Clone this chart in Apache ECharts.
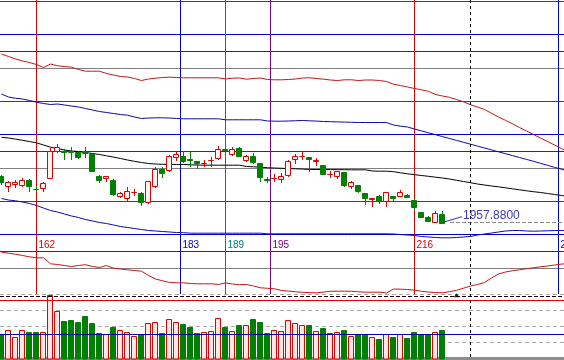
<!DOCTYPE html>
<html><head><meta charset="utf-8">
<script src="https://cdn.jsdelivr.net/npm/echarts@6/dist/echarts.min.js"></script>
<style>html,body{margin:0;padding:0;background:#fff}#c{width:564px;height:360px}</style>
</head><body><div id="c"></div>
<script>
// ---------- data ----------
const firstIndex = 157; // bar index of the first candle / first band point
const opens = [2052, 2032, 2035, 2034, 2044, 2025.6, 2027.4, 2047.4, 2100.6, 2101,
 2100.6, 2098.6, 2100.6, 2095.4, 2052, 2047.4, 2043.4, 2010.6, 2007.4, 2019,
 2016.6, 1998.6, 2032, 2065.4, 2063.4, 2088.6, 2091, 2084.4, 2080.6, 2077,
 2083, 2087.4, 2104.4, 2095.4, 2107.4, 2083.4, 2092, 2077.4, 2044.4, 2046.2,
 2045.4, 2053.4, 2085.4, 2090.4, 2090, 2081.8, 2073.4, 2055.2, 2052, 2059,
 2032, 2034, 2016.6, 2005.8, 2010.6, 2000.6, 2012, 2012, 2014, 2003.4,
 1980, 1970, 1960, 1975.4];
const closes = [2038.6, 2038.6, 2038.6, 2043.4, 2030.6, 2025.2, 2037.4, 2102, 2110, 2099,
 2098.6, 2088.6, 2096.6, 2060.6, 2044, 2050.6, 2015.4, 2016.6, 2022, 2020,
 1998.6, 2042, 2065.4, 2056.6, 2092, 2095.4, 2080.6, 2083.6, 2076.6, 2077.4,
 2083.4, 2105.4, 2103.6, 2105.4, 2090.6, 2092, 2080, 2050, 2043.6, 2046.8,
 2052, 2082, 2092, 2090.8, 2085.4, 2082.2, 2055.4, 2055.6, 2060.6, 2033,
 2039, 2020.4, 2007, 2006.2, 2001, 2018.6, 2007.4, 2018.6, 2008.6, 1988.6,
 1970, 1962, 1976.6, 1957.88];
const lows = [2036, 2022, 2030, 2032, 2022, 2022, 2022, 2047.4, 2098.6, 2085.4,
 2085.4, 2086.6, 2090, 2060.6, 2038.6, 2040.6, 2014, 2008.6, 2002, 2014,
 1994, 1996.6, 2028.6, 2048.6, 2062, 2083.4, 2078.6, 2072, 2067.4, 2072,
 2072, 2085.4, 2099, 2093.4, 2090.6, 2082, 2076.6, 2042, 2038.6, 2042,
 2038.6, 2052, 2076.6, 2085.4, 2060.6, 2074, 2055.4, 2048.6, 2047.4, 2032,
 2027, 2019, 1996, 1992, 1996.6, 1992, 2003.4, 2010.6, 2008.6, 1985.4,
 1970, 1960.6, 1958.6, 1957.88];
const highs = [2054, 2042, 2043, 2046.6, 2046, 2032, 2040, 2107.4, 2115.4, 2105.4,
 2108.6, 2100.6, 2108.6, 2096.6, 2053.4, 2052, 2044.6, 2018.6, 2028.6, 2025.4,
 2020, 2042, 2068.6, 2070, 2093.4, 2100, 2100.6, 2098.6, 2082, 2083.4,
 2088.6, 2112, 2108, 2110, 2108.6, 2094, 2096.6, 2077.4, 2048.6, 2055.4,
 2056.6, 2083.4, 2095.4, 2098.6, 2090, 2087.4, 2073.4, 2060.6, 2062, 2059,
 2041, 2034, 2016.6, 2008, 2013, 2020, 2012, 2023.4, 2015, 2005.4,
 1980, 1972, 1980.6, 1982];
const volumes = [245, 285, 212, 285, 265, 265, 262, 640, 475, 375,
 385, 365, 425, 355, 255, 245, 318, 285, 262, 225,
 242, 352, 362, 255, 392, 362, 345, 318, 255, 262,
 275, 402, 318, 275, 335, 335, 395, 365, 255, 285,
 280, 385, 352, 335, 335, 275, 305, 252, 262, 285,
 225, 242, 242, 212, 195, 242, 215, 242, 205, 265,
 242, 242, 262, 285];
// bands / moving average, bar index 157..238
const maLine = [2128.4, 2127, 2124.8, 2122.4, 2120, 2117.4, 2113, 2108.6, 2106, 2103,
 2101, 2100, 2098, 2096, 2094, 2091.4, 2088.8, 2086, 2083, 2080.4,
 2078, 2076, 2075, 2074.4, 2074, 2074, 2074, 2073.4, 2073, 2072.6,
 2072.6, 2072.6, 2072.6, 2072.6, 2072.6, 2070, 2069.4, 2068.6, 2067.6, 2067,
 2066.4, 2066, 2065.4, 2064.8, 2064.2, 2064, 2064, 2063.8, 2063.6, 2063.6,
 2063.4, 2063.4, 2063.4, 2061, 2060.6, 2060.6, 2059.6, 2057.4, 2055.4, 2053.6,
 2052, 2050.4, 2048.6, 2047, 2045, 2042.4, 2040, 2037.6, 2035, 2033,
 2031, 2029.4, 2027.4, 2025.4, 2023.4, 2021.4, 2019.6, 2018, 2016, 2014,
 2012, 2010];
const upperBlue = [2215, 2209, 2206.4, 2205, 2202, 2198.6, 2196, 2194, 2195, 2193,
 2191, 2189, 2186, 2183, 2180, 2178, 2176, 2174, 2172.6, 2169,
 2166, 2167, 2167.4, 2167.4, 2167, 2166, 2165.4, 2165.4, 2165.4, 2165.4,
 2165.4, 2165.4, 2163.4, 2163.4, 2163.4, 2163.4, 2163.4, 2163.4, 2161, 2160.6,
 2160.6, 2161, 2161.6, 2162, 2161.4, 2160.8, 2160, 2159.6, 2159.2, 2158.8,
 2158.4, 2158, 2158, 2158, 2158, 2158, 2153, 2150.6, 2149, 2145,
 2141.2, 2137.4, 2133.6, 2129.8, 2126, 2122.2, 2118.4, 2114.6, 2110.8, 2107,
 2103.2, 2099.4, 2095.6, 2091.8, 2088, 2084.2, 2080.4, 2076.4, 2072.4, 2068.4,
 2064.4, 2060.4];
const upperRed = [2295, 2290, 2285, 2281, 2278, 2274, 2268, 2275, 2271.4, 2270,
 2268.6, 2264, 2260.6, 2260.6, 2260.6, 2256, 2253, 2250, 2249, 2246,
 2242, 2245, 2246.6, 2248, 2248.6, 2248, 2247.4, 2247.4, 2247.4, 2247.4,
 2247.4, 2247.4, 2245, 2246.6, 2247, 2244.6, 2246, 2247, 2244, 2243.4,
 2243.4, 2244, 2245, 2247, 2247.4, 2246, 2244.6, 2243, 2242, 2243.4,
 2243.4, 2242, 2243, 2243, 2242, 2240, 2234.6, 2232, 2229, 2226,
 2223.4, 2220.4, 2214, 2211, 2208.4, 2204, 2199.4, 2193.6, 2189, 2184,
 2176.4, 2169, 2162.4, 2155.4, 2148, 2141, 2134, 2127, 2120, 2113,
 2106, 2099];
const lowerBlue = [2006, 2003, 2001.4, 1999, 1996, 1992, 1987, 1982, 1979, 1975,
 1971, 1968, 1964, 1961, 1958, 1956, 1953, 1950, 1948, 1946,
 1944, 1942, 1941, 1940, 1939, 1938, 1937.6, 1936.6, 1936.6, 1936.6,
 1936.6, 1936.6, 1936.6, 1936.6, 1936.6, 1936.6, 1936.6, 1936.6, 1935.4, 1935.4,
 1935.4, 1935.4, 1935.4, 1935.4, 1935.4, 1935.4, 1935.4, 1935.4, 1935.4, 1935.4,
 1935.4, 1935.4, 1935.4, 1935.4, 1935.4, 1935.4, 1935, 1934, 1933, 1932,
 1930, 1929, 1928, 1927.4, 1927.4, 1928, 1929, 1930, 1933, 1935,
 1937, 1939, 1941, 1942, 1942, 1941, 1940.6, 1941, 1941.4, 1942,
 1942, 1942];
const lowerRed = [1898.6, 1896.6, 1894.6, 1892, 1889.4, 1887.4, 1887.4, 1875.4, 1874, 1872,
 1870, 1872, 1873.6, 1870, 1868, 1872, 1866.6, 1865, 1863.4, 1862,
 1860.6, 1852, 1845, 1841.4, 1838, 1837.4, 1837.4, 1836, 1835.4, 1835.4,
 1835.4, 1834, 1837.4, 1835, 1833.6, 1834, 1831, 1827.4, 1826.4, 1825.4,
 1822, 1820.8, 1819.4, 1818.4, 1817.8, 1817.4, 1818.8, 1820.4, 1820.6, 1820.6,
 1820.4, 1819.4, 1818.6, 1818.6, 1818.6, 1817, 1825, 1824.6, 1824, 1822.6,
 1820.4, 1819, 1818, 1817.4, 1819.6, 1822.4, 1826.6, 1831, 1834, 1838,
 1847, 1855, 1859, 1861.6, 1863.4, 1865.6, 1867.4, 1869.4, 1871, 1873,
 1874.8, 1876.4];
const priceLevels = [2400, 2334, 2300, 2266, 2200, 2134, 2100, 2066, 2000, 1934, 1900, 1866];
const cycleLines = [162, 182.57, 189, 195.43, 216, 236.57];
const cursorIndex = 224;
const volumeLevels = [620, 580, 240];
const markerPoints = [[222, 632]];

// ---------- styles ----------
const UP = '#e40000', UP_FILL = '#fff2f2', VOL_UP_FILL = '#ffe6e6', DOWN = '#008000';
const levelColors = ['#e00000', '#0000cc', '#800080', '#808080'];
const cycleColors = ['#e00000', '#0000cc', '#008080', '#800080', '#e00000', '#0000cc'];
const volumeLevelStyles = [
  {stroke: '#000000', lineDash: [4, 2]},
  {stroke: '#e00000', lineDash: null},
  {stroke: '#000099', lineDash: null}
];
const CYCLE_LABEL_Y = 245;
const X_MIN = 162 - 36.5 / 7, X_MAX = X_MIN + 564 / 7;

const candleData = opens.map((o, k) => [firstIndex + k, o, closes[k], lows[k], highs[k]]);
const volData = volumes.map((v, k) => [firstIndex + k, v, closes[k] >= opens[k] ? 1 : 0]);
const toLine = arr => arr.map((v, k) => [firstIndex + k, v]);

function lineSeries(name, arr, color) {
  return {name, type: 'line', xAxisIndex: 0, yAxisIndex: 0, data: toLine(arr), showSymbol: false,
    symbol: 'none', lineStyle: {color, width: 1}, z: 2, silent: true, clip: true};
}

const chart = echarts.init(document.getElementById('c'), null, {renderer: 'canvas'});
chart.setOption({
  animation: false,
  backgroundColor: '#ffffff',
  grid: [
    {left: 0, top: 0, width: 564, height: 294},
    {left: 0, top: 294.5, width: 564, height: 64}
  ],
  xAxis: [
    {type: 'value', gridIndex: 0, min: X_MIN, max: X_MAX, show: false},
    {type: 'value', gridIndex: 1, min: X_MIN, max: X_MAX,
      axisLine: {show: true, onZero: false, lineStyle: {color: '#8c8c8c', width: 3}},
      axisTick: {show: false}, axisLabel: {show: false}, splitLine: {show: false}}
  ],
  yAxis: [
    {type: 'value', gridIndex: 0, min: 1815, max: 2403, show: false},
    {type: 'value', gridIndex: 1, min: 0, max: 640, interval: 160,
      axisLine: {show: false}, axisTick: {show: false}, axisLabel: {show: false},
      splitLine: {show: true, lineStyle: {color: '#a8a8a8', width: 1, type: [4, 3]}}}
  ],
  series: [
    { // horizontal price levels
      type: 'custom', xAxisIndex: 0, yAxisIndex: 0, z: 1, silent: true,
      data: priceLevels.map(p => [firstIndex, p]),
      renderItem(params, api) {
        const cs = params.coordSys;
        const y = Math.round(api.coord([api.value(0), api.value(1)])[1] - 0.5) + 0.5;
        return {type: 'line', shape: {x1: cs.x, y1: y, x2: cs.x + cs.width, y2: y},
          style: {stroke: levelColors[params.dataIndex % 4], lineWidth: 1}};
      }
    },
    { // vertical cycle lines with labels
      type: 'custom', xAxisIndex: 0, yAxisIndex: 0, z: 1, silent: true,
      data: cycleLines.map(v => [v, 2000]),
      renderItem(params, api) {
        const cs = params.coordSys;
        const v = api.value(0);
        const x = Math.round(api.coord([v, api.value(1)])[0] - 0.5) + 0.5;
        const col = cycleColors[params.dataIndex];
        return {type: 'group', children: [
          {type: 'line', shape: {x1: x, y1: cs.y, x2: x, y2: cs.y + cs.height},
            style: {stroke: col, lineWidth: 1}},
          {type: 'text', style: {text: String(Math.round(v)), x: x + 2, y: cs.y + CYCLE_LABEL_Y,
            fill: col, font: '10px "Liberation Sans", Arial, sans-serif', align: 'left', verticalAlign: 'middle'}}
        ]};
      }
    },
    lineSeries('upperRed', upperRed, '#c81414'),
    lineSeries('upperBlue', upperBlue, '#0a0aa8'),
    lineSeries('ma', maLine, '#000000'),
    lineSeries('lowerBlue', lowerBlue, '#0a0aa8'),
    lineSeries('lowerRed', lowerRed, '#c81414'),
    { // candles
      type: 'custom', xAxisIndex: 0, yAxisIndex: 0, z: 3, silent: true,
      data: candleData,
      renderItem(params, api) {
        const i = api.value(0), o = api.value(1), c = api.value(2), lo = api.value(3), hi = api.value(4);
        const up = c >= o;
        const pO = api.coord([i, o]), pC = api.coord([i, c]);
        const yL = api.coord([i, lo])[1], yH = api.coord([i, hi])[1];
        const cx = Math.floor(pO[0]);
        const yTop = Math.round(Math.min(pO[1], pC[1])) + 0.5;
        const yBot = Math.round(Math.max(pO[1], pC[1])) + 0.5;
        const col = up ? UP : DOWN;
        const wx = cx + 0.5;
        const ch = [];
        if (Math.round(yH) < yTop) ch.push({type: 'line', shape: {x1: wx, y1: Math.round(yH), x2: wx, y2: yTop}, style: {stroke: col, lineWidth: 1}});
        if (Math.round(yL) + 1 > yBot) ch.push({type: 'line', shape: {x1: wx, y1: yBot, x2: wx, y2: Math.round(yL) + 1}, style: {stroke: col, lineWidth: 1}});
        ch.push({type: 'rect', shape: {x: cx - 2.5, y: yTop, width: 5, height: yBot - yTop},
          style: {fill: up ? UP_FILL : col, stroke: col, lineWidth: 1}});
        return {type: 'group', children: ch};
      }
    },
    { // last price annotation
      type: 'custom', xAxisIndex: 0, yAxisIndex: 0, z: 4, silent: true,
      data: [[firstIndex + closes.length - 1, closes[closes.length - 1]]],
      renderItem(params, api) {
        const cs = params.coordSys;
        const p = api.coord([api.value(0), api.value(1)]);
        const cx = Math.floor(p[0]);
        const y = p[1];
        const yl = Math.floor(y) + 0.5;
        return {type: 'group', children: [
          {type: 'line', shape: {x1: cx + 8, y1: yl, x2: cs.x + cs.width, y2: yl},
            style: {stroke: '#8c8c8c', lineWidth: 1, lineDash: [4, 2]}},
          {type: 'line', shape: {x1: cx + 3, y1: y - 0.9, x2: cx + 20, y2: y - 5.9},
            style: {stroke: '#3030c0', lineWidth: 1}},
          {type: 'text', style: {text: api.value(1).toFixed(4), x: cx + 21, y: y - 6.9,
            fill: '#3a3ac4', font: '12px "Liberation Sans", Arial, sans-serif', align: 'left', verticalAlign: 'middle'}}
        ]};
      }
    },
    { // cursor dashed vertical line through the whole picture
      type: 'custom', xAxisIndex: 0, yAxisIndex: 0, z: 5, silent: true,
      data: [[cursorIndex, 2000]],
      renderItem(params, api) {
        const x = Math.round(api.coord([api.value(0), api.value(1)])[0] - 0.5) + 0.5;
        return {type: 'line', shape: {x1: x, y1: 0, x2: x, y2: api.getHeight()},
          style: {stroke: '#000000', lineWidth: 1, lineDash: [3, 3]}};
      }
    },
    { // volume bars
      type: 'custom', xAxisIndex: 1, yAxisIndex: 1, z: 2, silent: true,
      data: volData,
      renderItem(params, api) {
        const i = api.value(0), v = api.value(1), up = api.value(2) > 0;
        const p = api.coord([i, v]), p0 = api.coord([i, 0]);
        const cx = Math.floor(p[0]);
        const yTop = Math.round(p[1]) + 0.5;
        const yBot = Math.round(p0[1]);
        const col = up ? UP : DOWN;
        return {type: 'rect', shape: {x: cx - 2.5, y: yTop, width: 5, height: yBot - yTop},
          style: {fill: up ? VOL_UP_FILL : col, stroke: col, lineWidth: 1}};
      }
    },
    { // volume reference lines
      type: 'custom', xAxisIndex: 1, yAxisIndex: 1, z: 3, silent: true,
      data: volumeLevels.map(v => [firstIndex, v]),
      renderItem(params, api) {
        const cs = params.coordSys;
        const y = Math.round(api.coord([api.value(0), api.value(1)])[1] - 0.5) + 0.5;
        const st = volumeLevelStyles[params.dataIndex];
        return {type: 'line', shape: {x1: cs.x, y1: y, x2: cs.x + cs.width, y2: y},
          style: {stroke: st.stroke, lineWidth: 1, lineDash: st.lineDash}};
      }
    },
    {
      type: 'scatter', xAxisIndex: 1, yAxisIndex: 1, z: 6, silent: true,
      data: markerPoints, symbol: 'triangle', symbolSize: [6, 4],
      itemStyle: {color: '#000000'}
    }
  ]
});
</script>
</body></html>
